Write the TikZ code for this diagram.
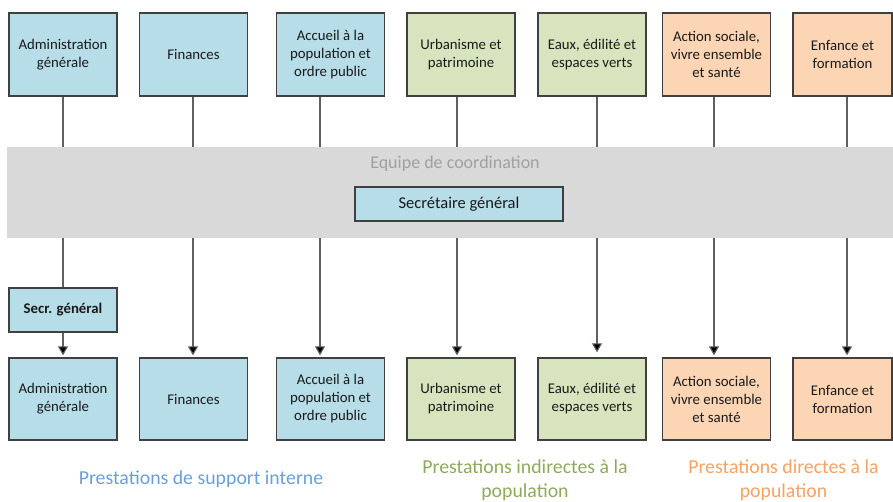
\documentclass[tikz,border=0pt]{standalone}
\usepackage{fontspec}
\setmainfont{Carlito}
\usetikzlibrary{arrows.meta,calc}
\definecolor{bblue}{HTML}{B7DDE8}
\definecolor{bgreen}{HTML}{D7E4BD}
\definecolor{borange}{HTML}{FCD5B5}
\definecolor{bordercol}{HTML}{404040}
\definecolor{txtcol}{HTML}{1A1A1A}
\definecolor{bandcol}{HTML}{D9D9D9}
\definecolor{bandtxt}{HTML}{A0A0A0}
\definecolor{linecol}{HTML}{606060}
\definecolor{lblue}{HTML}{6A9FDB}
\definecolor{lgreen}{HTML}{8EAA5B}
\definecolor{lorange}{HTML}{F5A263}
\begin{document}
\begin{tikzpicture}[x=1pt,y=-1pt,
  box/.style={draw=bordercol, line width=1.3pt, minimum width=108pt, align=center,
    inner sep=2pt, text=txtcol, font=\fontsize{14.8}{18}\selectfont},
  topbox/.style={box, minimum height=83pt},
  botbox/.style={box, minimum height=82pt},
  conn/.style={draw=linecol, line width=1.1pt, -{Triangle[length=9pt,width=10pt,fill=black]}, shorten >=2pt},
  plain/.style={draw=linecol, line width=1.1pt},
  lbl/.style={align=center, font=\fontsize{19.8}{23.5}\selectfont}
]
\useasboundingbox (0,0) rectangle (893,501);

% top row
\node[topbox, fill=bblue] (t1) at (63,54.5) {Administration\\générale};
\node[topbox, fill=bblue] (t2) at (193.5,54.5) {Finances};
\node[topbox, fill=bblue] (t3) at (330.5,54.5) {Accueil à la\\population et\\ordre public};
\node[topbox, fill=bgreen] (t4) at (461,54.5) {Urbanisme et\\patrimoine};
\node[topbox, fill=bgreen] (t5) at (592,54.5) {Eaux, édilité et\\espaces verts};
\node[topbox, fill=borange] (t6) at (716.5,54.5) {Action sociale,\\vivre ensemble\\et santé};
\node[topbox, fill=borange, minimum width=99pt] (t7) at (842.5,54.5) {Enfance et\\formation};

% bottom row
\node[botbox, fill=bblue] (b1) at (63,399) {Administration\\générale};
\node[botbox, fill=bblue] (b2) at (193.5,399) {Finances};
\node[botbox, fill=bblue] (b3) at (330.5,399) {Accueil à la\\population et\\ordre public};
\node[botbox, fill=bgreen] (b4) at (461,399) {Urbanisme et\\patrimoine};
\node[botbox, fill=bgreen] (b5) at (592,399) {Eaux, édilité et\\espaces verts};
\node[botbox, fill=borange] (b6) at (716.5,399) {Action sociale,\\vivre ensemble\\et santé};
\node[botbox, fill=borange, minimum width=99pt] (b7) at (842.5,399) {Enfance et\\formation};

% secr. general (column 1)
\node[box, fill=bblue, minimum height=44pt, font=\fontsize{14.8}{18}\selectfont\bfseries] (sg2) at (63,310) {Secr. général};

% connectors
\draw[plain] (t1.south) -- (sg2.north);
\draw[conn] (sg2.south) -- (b1.north);
\draw[conn] ([xshift=-0.5pt]t2.south) -- ([xshift=-0.5pt]b2.north);
\draw[conn] ([xshift=-10.5pt]t3.south) -- ([xshift=-10.5pt]b3.north);
\draw[conn] ([xshift=-4pt]t4.south) -- ([xshift=-4pt]b4.north);
\draw[conn,shorten >=5pt] ([xshift=5pt]t5.south) -- ([xshift=5pt]b5.north);
\draw[conn] ([xshift=-2.5pt]t6.south) -- ([xshift=-2.5pt]b6.north);
\draw[conn] ([xshift=4.5pt]t7.south) -- ([xshift=4.5pt]b7.north);

% coordination band
\node[fill=bandcol, inner sep=0pt, minimum width=886pt, minimum height=91pt, anchor=north west] (band) at (7,147) {};
\node[text=bandtxt, font=\fontsize{18}{21}\selectfont] (eq) at (455,164) {Equipe de coordination};
\node[box, fill=bblue, minimum width=208pt, minimum height=34pt, font=\fontsize{16.5}{20}\selectfont] (sg) at (459,204) {Secrétaire général};

% bottom labels
\node[lbl, text=lblue] (l1) at (201,479) {Prestations de support interne};
\node[lbl, text=lgreen] (l2) at (525,480) {Prestations indirectes à la\\population};
\node[lbl, text=lorange] (l3) at (783.5,480) {Prestations directes à la\\population};
\end{tikzpicture}
\end{document}
